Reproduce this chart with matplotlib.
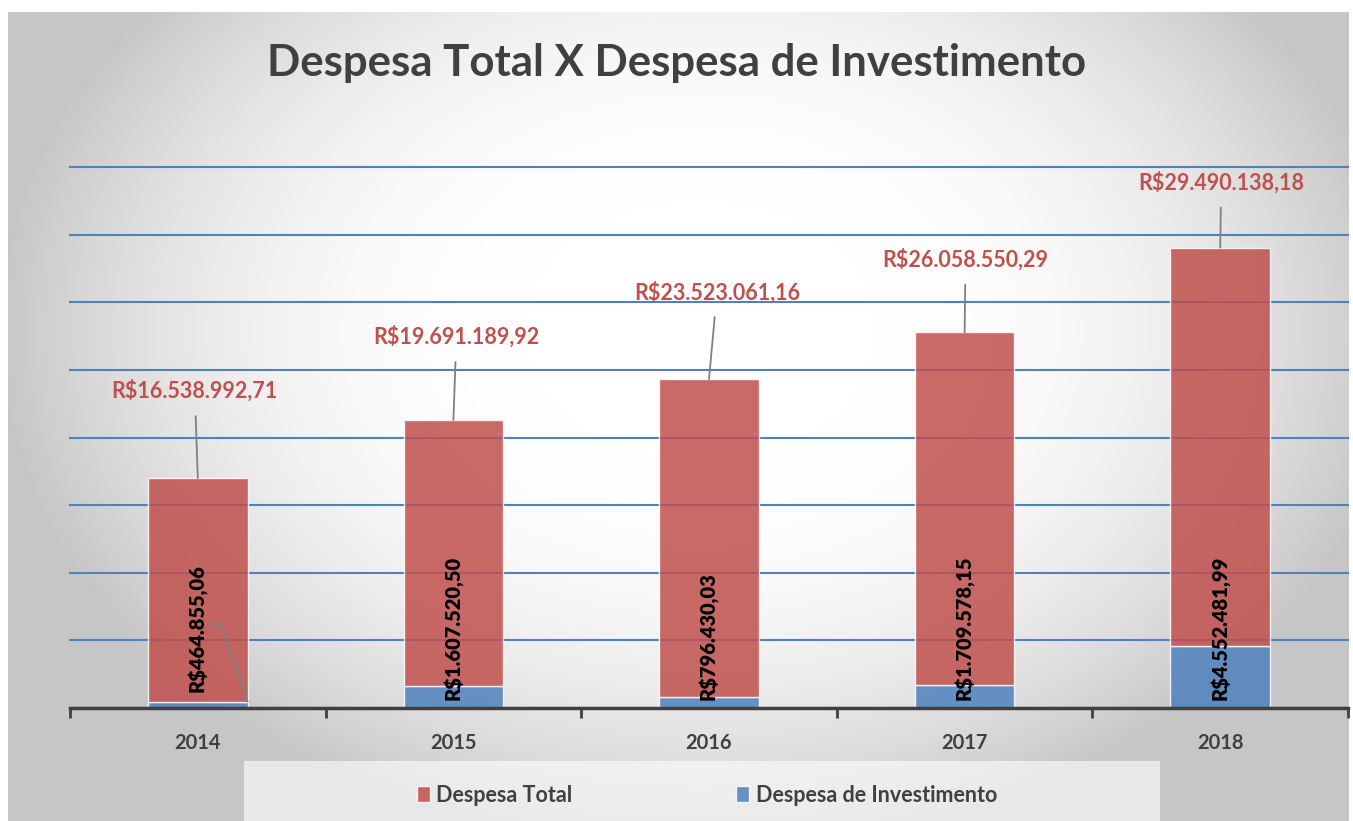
import numpy as np
import matplotlib
matplotlib.use('Agg')
import matplotlib.pyplot as plt
import matplotlib.transforms as mtrans
from matplotlib.patches import Rectangle, Patch

plt.rcParams['font.family'] = ['Lato', 'DejaVu Sans']

years = ['2014', '2015', '2016', '2017', '2018']
despesa_total = [16538992.71, 19691189.92, 23523061.16, 26058550.29, 29490138.18]
despesa_invest = [464855.06, 1607520.50, 796430.03, 1709578.15, 4552481.99]

# label offsets in pixels (x, y) for the red labels
total_offsets = [(-3, 87), (3, 83), (8, 87), (1, 73), (1, 65)]

RED = '#C0504D'
BLUE = '#4F81BD'
DARK = '#404040'


def brl(v):
    s = f"{v:,.2f}".replace(',', 'X').replace('.', ',').replace('X', '.')
    return 'R$' + s


W, H = 1353, 821
fig = plt.figure(figsize=(W / 100, H / 100), dpi=100)

# radial gradient background
bg = fig.add_axes([0, 0, 1, 1], zorder=-10)
yy, xx = np.mgrid[0:H, 0:W]
d = np.sqrt(((xx - 700) / 700) ** 2 + ((yy - 330) / 520) ** 2)
shade = 1.0 - 0.22 * np.clip((d - 0.25) / 0.75, 0, 1) ** 2
img = np.dstack([shade] * 3)
mask = (xx < 8) | (yy < 12) | (xx > 1348)
img[mask] = 1.0
bg.imshow(img, extent=[0, W, H, 0], aspect='auto')
bg.set_xlim(0, W)
bg.set_ylim(H, 0)
bg.axis('off')
bg.add_patch(Rectangle((244, 761), 916, 60, facecolor='white', alpha=0.6, edgecolor='none'))

ax = fig.add_axes([70 / W, 113 / H, (1348 - 70) / W, 541 / H])
ax.set_facecolor('none')
x = np.arange(len(years))
bw = 0.39

ax.bar(x, despesa_invest, bw, color=BLUE, alpha=0.85, edgecolor='white', linewidth=1, zorder=3)
ax.bar(x, despesa_total, bw, bottom=despesa_invest, color=RED, alpha=0.85,
       edgecolor='white', linewidth=1, zorder=3)

ax.set_xlim(-0.5, len(years) - 0.5)
ax.set_ylim(0, 40e6)
ax.set_yticks(np.arange(0, 40e6 + 1, 5e6))
ax.yaxis.grid(True, color=BLUE, linewidth=1.5, zorder=0)
for gl in ax.get_ygridlines():
    gl.set_clip_on(False)
ax.set_axisbelow(True)
ax.tick_params(axis='y', left=False, labelleft=False)
for s in ['top', 'right', 'left']:
    ax.spines[s].set_visible(False)
ax.spines['bottom'].set_color(DARK)
ax.spines['bottom'].set_linewidth(2.5)
ax.spines['bottom'].set_zorder(5)

ax.set_xticks(np.arange(-0.5, len(years)), labels=[''] * (len(years) + 1))
ax.tick_params(axis='x', which='major', length=7, width=2, color=DARK, direction='out')
ax.set_xticks(x, labels=years, minor=True)
ax.tick_params(axis='x', which='minor', length=0, pad=18, labelsize=14.5, labelcolor=DARK)
for t in ax.get_xticklabels(minor=True):
    t.set_fontweight('bold')

for i in range(len(years)):
    top = despesa_total[i] + despesa_invest[i]
    ax.annotate(brl(despesa_total[i]), xy=(x[i], top), xytext=total_offsets[i],
                textcoords='offset pixels', ha='center', va='center',
                fontsize=15.5, fontweight='bold', color=RED, zorder=6,
                arrowprops=dict(arrowstyle='-', color='#808080', lw=1.3,
                                shrinkA=8, shrinkB=0))

lift = mtrans.offset_copy(ax.transData, fig=fig, x=0, y=84, units='dots')
for i in range(len(years)):
    dy = 0.16 if i == 0 else 0.08
    ax.text(x[i], 0, brl(despesa_invest[i]), rotation=90, ha='center', va='bottom',
            fontsize=14.5, fontweight='heavy', color='black', zorder=6,
            transform=ax.transData + mtrans.ScaledTranslation(0, dy, fig.dpi_scale_trans))
    if i == 0:
        # leader line from the thin blue segment to its label
        ax.annotate('', xy=(x[i] + bw / 2, despesa_invest[i]), xytext=(x[i] + 0.09, 0),
                    textcoords=lift,
                    arrowprops=dict(arrowstyle='-', color='#808080', lw=1.3, shrinkA=0, shrinkB=0),
                    zorder=6)
        ax.annotate('', xy=(x[i] + 0.09, 0), xytext=(x[i] + 0.05, 0),
                    xycoords=lift, textcoords=lift,
                    arrowprops=dict(arrowstyle='-', color='#808080', lw=1.3, shrinkA=0, shrinkB=0),
                    zorder=6)

fig.text(0.5, 1 - 63 / H, 'Despesa Total X Despesa de Investimento', ha='center', va='center',
         fontsize=31.5, fontweight='bold', color=DARK)

handles = [Patch(facecolor=RED, alpha=0.85, edgecolor='white'),
           Patch(facecolor=BLUE, alpha=0.85, edgecolor='white')]
leg = fig.legend(handles, ['Despesa Total', 'Despesa de Investimento'], loc='center',
                 bbox_to_anchor=(707 / W, 1 - 795 / H), ncol=2, frameon=False,
                 handlelength=0.6, handleheight=0.8, handletextpad=0.3, columnspacing=7.6,
                 prop={'size': 15.5, 'weight': 'bold'})
for t in leg.get_texts():
    t.set_color(DARK)

fig.savefig('out.png', dpi=100)
